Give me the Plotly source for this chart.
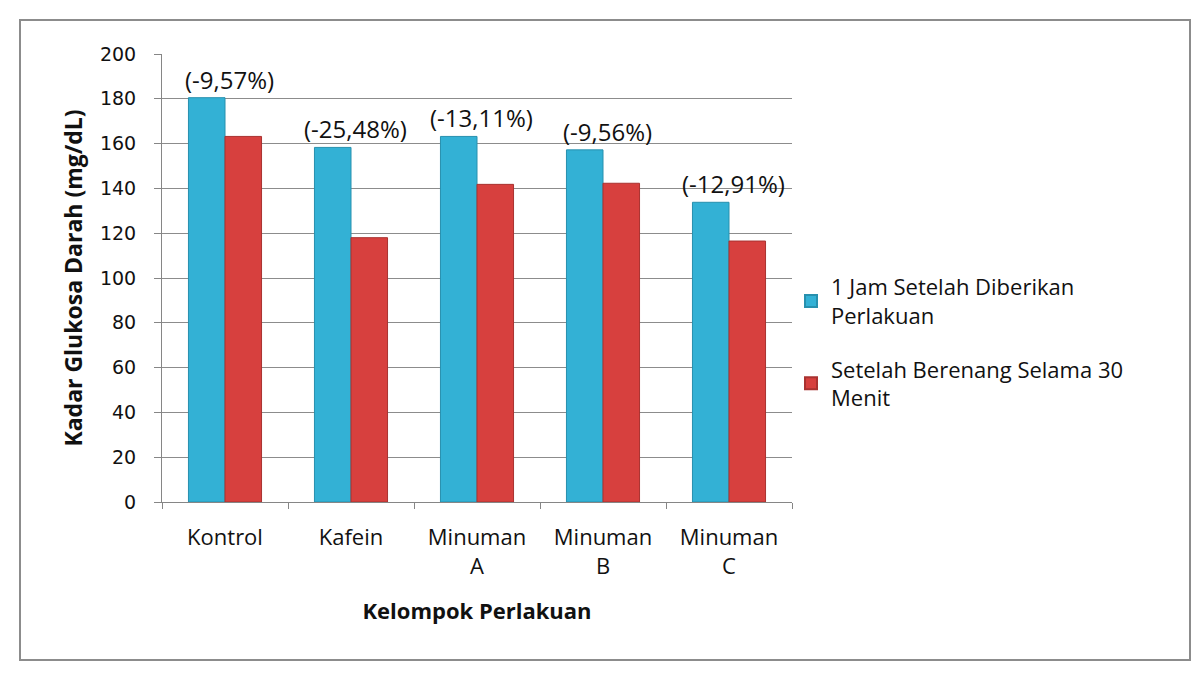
import plotly.graph_objects as go

categories = ["Kontrol", "Kafein", "Minuman<br>A", "Minuman<br>B", "Minuman<br>C"]
series1_name = "1 Jam Setelah Diberikan<br>Perlakuan"
series2_name = "Setelah Berenang Selama 30<br>Menit"
series1 = [180.5, 158.3, 163.2, 157.2, 133.8]
series2 = [163.2, 118.0, 141.8, 142.3, 116.5]
pct_labels = ["(-9,57%)", "(-25,48%)", "(-13,11%)", "(-9,56%)", "(-12,91%)"]
y_ticks = [0, 20, 40, 60, 80, 100, 120, 140, 160, 180, 200]

FONT = "Open Sans"
OFF = 8  # default body margin of the html page
W, H = 1203 - 2 * OFF, 680 - 2 * OFF
# plot area in screen pixels
L, R, T, B = 162 - OFF, 792 - OFF, 54 - OFF, 502 - OFF
pw, ph = R - L, B - T
def px(x):
    return (x - OFF - L) / pw
def py(y):
    return (B - (y - OFF)) / ph

fig = go.Figure()
fig.add_trace(go.Bar(x=categories, y=series1, name=series1_name, legendgroup="a",
                     marker=dict(color="#33b1d5", line=dict(color="#2790ae", width=1))))
fig.add_trace(go.Bar(x=categories, y=series2, name=series2_name, legendgroup="b",
                     marker=dict(color="#d7403e", line=dict(color="#a93230", width=1))))

for c, v, t in zip(categories, series1, pct_labels):
    fig.add_annotation(x=c, y=v, text=t, showarrow=False, yanchor="bottom",
                       yshift=0, xshift=4, font=dict(family=FONT, size=24, color="#111"))

fig.add_shape(type="rect", xref="paper", yref="paper",
              x0=px(20), x1=px(1190), y0=py(660), y1=py(20),
              line=dict(color="#8c8c8c", width=2), layer="below")

fig.update_layout(
    width=W, height=H,
    margin=dict(l=L, r=W - R, t=T, b=H - B, autoexpand=False),
    paper_bgcolor="white", plot_bgcolor="white",
    barmode="group", bargap=0.42, bargroupgap=0,
    font=dict(family=FONT, color="#111"),
    showlegend=True,
    legend=dict(x=px(791), y=py(266), xanchor="left", yanchor="top",
                font=dict(family=FONT, size=22, color="#111"),
                itemsizing="constant", tracegroupgap=22, traceorder="grouped",
                bgcolor="rgba(0,0,0,0)"),
    xaxis=dict(type="category", tickson="boundaries", ticks="outside", ticklen=6,
               tickcolor="#868686", showline=True, linecolor="#868686", linewidth=1,
               ticklabelstandoff=16,
               tickfont=dict(family=FONT, size=22, color="#111"),
               title=dict(text="<b>Kelompok Perlakuan</b>", standoff=24,
                          font=dict(family=FONT, size=22, color="#111"))),
    yaxis=dict(range=[0, 200], tickvals=y_ticks, ticks="outside", ticklen=7,
               tickcolor="#868686", showline=True, linecolor="#868686", linewidth=1,
               showgrid=True, gridcolor="#8c8c8c", gridwidth=1, zeroline=False,
               ticklabelstandoff=14,
               tickfont=dict(family="DejaVu Sans", size=19, color="#111"),
               title=dict(text="<b>Kadar Glukosa Darah (mg/dL)</b>", standoff=10,
                          font=dict(family=FONT, size=23, color="#111"))),
)
fig.write_html("out.html")
